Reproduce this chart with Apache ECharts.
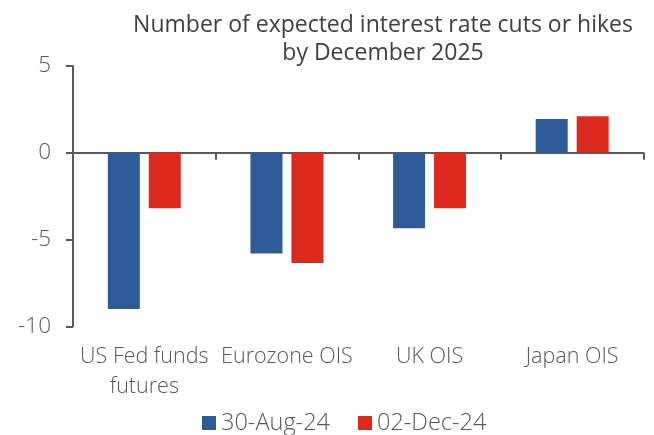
<!DOCTYPE html>
<html>
<head>
<meta charset="utf-8">
<script src="https://cdn.jsdelivr.net/npm/echarts@6/dist/echarts.min.js"></script>
<style>
  html, body { margin: 0; padding: 0; background: #fff; }
  #chart { width: 654px; height: 435px; }
</style>
</head>
<body>
<div id="chart"></div>
<script>
// Expected number of 25bp rate moves priced in by December 2025
const categories = ['US Fed funds\nfutures', 'Eurozone OIS', 'UK OIS', 'Japan OIS'];
const seriesNames = ['30-Aug-24', '02-Dec-24'];
const aug30 = [-9.0, -5.8, -4.35, 1.95];
const dec02 = [-3.2, -6.35, -3.2, 2.1];
const yTicks = { min: -10, max: 5, step: 5 };

const FONT = '"Open Sans", "Noto Sans", sans-serif';
const AXIS_COLOR = '#595959';
const TEXT_COLOR = '#595959';

const chart = echarts.init(document.getElementById('chart'), null, { renderer: 'canvas' });

chart.setOption({
  animation: false,
  backgroundColor: '#ffffff',
  textStyle: { fontFamily: FONT },
  title: {
    text: 'Number of expected interest rate cuts or hikes\nby December 2025',
    left: 378, top: 6, textAlign: 'center',
    textStyle: {
      fontFamily: FONT, fontSize: 23, fontWeight: 400, color: '#404040',
      lineHeight: 28.5, align: 'center'
    }
  },
  grid: {
    left: 73, right: 10.5, top: 66, bottom: 108.7,
    containLabel: false,
    outerBoundsMode: 'none'
  },
  legend: {
    data: seriesNames,
    top: 411,
    left: 202,
    padding: 0,
    itemWidth: 14,
    itemHeight: 14,
    itemGap: 28,
    icon: 'rect',
    textStyle: { fontFamily: FONT, fontSize: 23.5, fontWeight: 300, color: TEXT_COLOR }
  },
  xAxis: [
    {
      // category labels along the bottom of the plot
      type: 'category',
      data: categories,
      position: 'bottom',
      axisLine: { show: false, onZero: false },
      axisTick: { show: false },
      axisLabel: {
        margin: 16,
        interval: 0,
        fontFamily: FONT, fontSize: 21.5, fontWeight: 300, color: TEXT_COLOR,
        lineHeight: 30
      }
    },
    {
      // baseline at zero with boundary ticks
      type: 'category',
      data: categories,
      position: 'bottom',
      axisLine: { show: true, onZero: true, lineStyle: { color: AXIS_COLOR, width: 2 } },
      axisTick: { show: true, length: 7, inside: false, interval: 0, lineStyle: { color: AXIS_COLOR, width: 2 } },
      axisLabel: { show: false }
    }
  ],
  yAxis: {
    type: 'value',
    min: yTicks.min,
    max: yTicks.max,
    interval: yTicks.step,
    axisLine: { show: true, lineStyle: { color: AXIS_COLOR, width: 2 } },
    axisTick: { show: true, length: 7, lineStyle: { color: AXIS_COLOR, width: 2 } },
    splitLine: { show: false },
    axisLabel: {
      margin: 22,
      fontFamily: FONT, fontSize: 22.5, fontWeight: 300, color: TEXT_COLOR
    }
  },
  series: [
    {
      name: seriesNames[0],
      type: 'bar',
      xAxisIndex: 0,
      data: aug30,
      barWidth: 32,
      barGap: '28%',
      itemStyle: { color: '#2E5B98' }
    },
    {
      name: seriesNames[1],
      type: 'bar',
      xAxisIndex: 0,
      data: dec02,
      barWidth: 32,
      barGap: '28%',
      itemStyle: { color: '#DC2A1F' }
    }
  ]
});
</script>
</body>
</html>
